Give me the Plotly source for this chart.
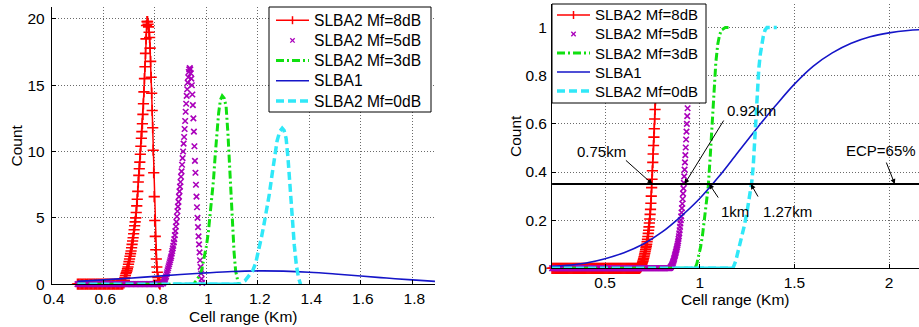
import numpy as np
import plotly.graph_objects as go

# ---------------- data: left panel (density of cell range) ----------------
# SLBA2 Mf=8dB
red_pdf_x = np.round(np.arange(0.680, 0.8205, 0.002), 3)
red_pdf_y = [0.1, 0.3, 0.5, 0.65, 0.8, 0.9, 1.0, 1.15, 1.3, 1.5,
             1.7, 1.9, 2.1, 2.3, 2.5, 2.75, 3.0, 3.25, 3.5, 3.8,
             4.1, 4.4, 4.7, 5.0, 5.4, 5.9, 6.4, 7.0, 7.7, 8.2,
             8.7, 9.2, 9.8, 10.4, 11.0, 11.5, 12.1, 12.8, 13.6, 14.5,
             15.5, 16.4, 17.4, 18.5, 19.5, 19.8, 19.8, 19.6, 19.4, 19.0,
             18.6, 17.8, 16.8, 15.6, 14.4, 13.1, 11.8, 10.1, 8.4, 6.6,
             4.8, 3.6, 2.6, 1.9, 1.3, 0.9, 0.5, 0.3, 0.15, 0.05,
             0.0]
# SLBA2 Mf=5dB
mag_pdf_x = np.round(np.arange(0.832, 0.9845, 0.002), 3)
mag_pdf_y = [0.05, 0.12, 0.2, 0.3, 0.4, 0.5, 0.6, 0.75, 0.9, 1.05,
             1.2, 1.35, 1.5, 1.65, 1.8, 1.95, 2.1, 2.3, 2.5, 2.7,
             2.9, 3.15, 3.4, 3.7, 4.0, 4.35, 4.7, 5.1, 5.5, 5.85,
             6.2, 6.6, 7.0, 7.35, 7.7, 8.1, 8.5, 9.0, 9.5, 10.0,
             10.6, 11.1, 11.7, 12.3, 13.0, 13.6, 14.2, 14.7, 15.2, 15.6,
             16.0, 16.2, 16.3, 16.2, 15.9, 15.5, 15.0, 14.3, 13.5, 12.5,
             11.5, 10.4, 9.3, 8.4, 7.5, 6.6, 5.8, 5.0, 4.3, 3.6,
             3.0, 2.4, 1.8, 1.3, 0.8, 0.4, 0.1]
# SLBA2 Mf=3dB
grn_pdf_x = [0.950, 0.963, 0.975, 0.982, 0.990, 1.000, 1.008, 1.015, 1.022, 1.028,
             1.035, 1.040, 1.048, 1.055, 1.062, 1.070, 1.077, 1.084, 1.090, 1.096,
             1.102, 1.108, 1.114, 1.120, 1.125]
grn_pdf_y = [0.0, 0.3, 0.7, 1.06, 1.8, 2.82, 3.9, 5.2, 6.6, 7.85,
             9.8, 11.3, 12.9, 13.9, 14.2, 14.0, 13.4, 11.4, 8.9, 6.4,
             4.2, 2.4, 1.0, 0.3, 0.0]
# SLBA1
blu_pdf_x = [0.50, 0.60, 0.70, 0.80, 0.90, 1.00, 1.10, 1.20, 1.30, 1.40,
             1.50, 1.60, 1.70, 1.80, 1.89]
blu_pdf_y = [0.21, 0.32, 0.45, 0.59, 0.73, 0.85, 0.95, 1.0, 0.98, 0.9,
             0.77, 0.62, 0.46, 0.32, 0.21]
# SLBA2 Mf=0dB
cyn_pdf_x = [1.130, 1.150, 1.165, 1.180, 1.192, 1.205, 1.215, 1.225, 1.235, 1.245,
             1.255, 1.265, 1.275, 1.285, 1.295, 1.302, 1.310, 1.317, 1.323, 1.329,
             1.335, 1.342, 1.350, 1.358, 1.366]
cyn_pdf_y = [0.0, 0.25, 0.6, 1.0, 1.6, 2.6, 3.6, 4.6, 5.6, 6.8,
             8.2, 9.6, 10.8, 11.5, 11.75, 11.6, 11.0, 9.6, 8.0, 6.3,
             4.5, 2.9, 1.4, 0.5, 0.0]
pdf_start = 0.50          # first sample of every density curve
cyn_solid_pdf = (0.87, 1.13)

# ---------------- data: right panel (cumulative distribution) ----------------
red_cdf_x = np.round(np.arange(0.684, 0.8205, 0.002), 3)
red_cdf_y = [0.002, 0.004, 0.006, 0.009, 0.012, 0.016, 0.020, 0.025, 0.030, 0.036,
             0.042, 0.048, 0.055, 0.062, 0.070, 0.077, 0.085, 0.092, 0.100, 0.110,
             0.120, 0.132, 0.145, 0.158, 0.172, 0.188, 0.205, 0.224, 0.245, 0.270,
             0.300, 0.335, 0.370, 0.405, 0.440, 0.475, 0.510, 0.545, 0.580, 0.620,
             0.660, 0.700, 0.740, 0.780, 0.820, 0.855, 0.890, 0.915, 0.940, 0.955,
             0.970, 0.978, 0.985, 0.990, 0.994, 0.996, 0.998, 0.999,
             1.0, 1.0, 1.0, 1.0, 1.0, 1.0, 1.0, 1.0, 1.0, 1.0, 1.0]
mag_cdf_x = np.round(np.arange(0.844, 0.9885, 0.002), 3)
mag_cdf_y = [0.002, 0.004, 0.006, 0.008, 0.011, 0.014, 0.018, 0.022, 0.027, 0.032,
             0.038, 0.044, 0.050, 0.056, 0.062, 0.068, 0.075, 0.081, 0.088, 0.095,
             0.103, 0.112, 0.122, 0.133, 0.145, 0.158, 0.172, 0.186, 0.200, 0.216,
             0.232, 0.250, 0.268, 0.288, 0.310, 0.332, 0.355, 0.382, 0.410, 0.440,
             0.470, 0.502, 0.535, 0.568, 0.600, 0.632, 0.665, 0.698, 0.730, 0.760,
             0.790, 0.818, 0.845, 0.868, 0.890, 0.910, 0.930, 0.943, 0.955, 0.966,
             0.975, 0.982, 0.987, 0.991, 0.994, 0.996, 0.998, 0.999, 1.0, 1.0,
             1.0, 1.0, 1.0]
grn_cdf_x = [0.975, 0.985, 0.995, 1.005, 1.015, 1.025, 1.035, 1.045, 1.055, 1.065,
             1.075, 1.085, 1.095, 1.105, 1.115, 1.125, 1.135, 1.152]
grn_cdf_y = [0.0, 0.02, 0.05, 0.09, 0.14, 0.20, 0.265, 0.34, 0.46, 0.60,
             0.74, 0.855, 0.93, 0.97, 0.99, 0.997, 1.0, 1.0]
blu_cdf_x = [0.22, 0.30, 0.40, 0.50, 0.60, 0.70, 0.80, 0.90, 1.00, 1.10,
             1.20, 1.30, 1.40, 1.50, 1.60, 1.70, 1.80, 1.90, 2.00, 2.10, 2.16]
blu_cdf_y = [0.007, 0.012, 0.022, 0.040, 0.065, 0.100, 0.150, 0.215, 0.290, 0.380,
             0.480, 0.580, 0.675, 0.765, 0.840, 0.895, 0.935, 0.962, 0.978, 0.988, 0.991]
cyn_cdf_x = [1.175, 1.190, 1.205, 1.220, 1.235, 1.250, 1.265, 1.275, 1.283, 1.290,
             1.297, 1.304, 1.312, 1.320, 1.328, 1.336, 1.345, 1.355, 1.407]
cyn_cdf_y = [0.0, 0.03, 0.075, 0.125, 0.175, 0.235, 0.305, 0.36, 0.43, 0.54,
             0.66, 0.76, 0.83, 0.89, 0.93, 0.965, 0.99, 1.0, 1.0]
cdf_start = 0.22
cyn_solid_cdf = (0.87, 1.175)

ecp = 0.65                      # edge coverage probability
ecp_level = 1 - ecp
range_marks = [(0.75, "0.75km"), (0.92, "0.92km"), (1.05, "1km"), (1.27, "1.27km")]

names = ["SLBA2 Mf=8dB", "SLBA2 Mf=5dB", "SLBA2 Mf=3dB", "SLBA1", "SLBA2 Mf=0dB"]
x_title, y_title = "Cell range (Km)", "Count"
RED, MAG, GRN, BLU, CYN = "#ff0000", "#aa00bb", "#10e010", "#1515c8", "#30e8f8"
W, H = 919, 327
FONT = "Arial, Liberation Sans, sans-serif"
FS = 15.5


def with_zero_run(x0, xs, ys, step=0.005):
    """Prepend the flat zero stretch that precedes each curve's rise."""
    xs = np.asarray(xs, float)
    ys = np.asarray(ys, float)
    assert len(xs) == len(ys), (len(xs), len(ys))
    run = np.arange(x0, xs[0] - step / 2, step)
    return np.concatenate([run, xs]), np.concatenate([np.zeros(len(run)), ys])


fig = go.Figure()


def add_panel(xa, ya, start, data, solid_seg):
    (rx, ry), (mx, my), (gx, gy), (bx, by), (cx, cy) = data
    x, y = with_zero_run(start, rx, ry)
    fig.add_trace(go.Scatter(x=x, y=y, name=names[0], mode="lines+markers",
                             line=dict(color=RED, width=1.5),
                             marker=dict(symbol="cross-thin", size=8, color=RED,
                                         line=dict(color=RED, width=1.6)),
                             cliponaxis=False, xaxis=xa, yaxis=ya))
    x, y = with_zero_run(start, mx, my)
    fig.add_trace(go.Scatter(x=x, y=y, name=names[1], mode="markers",
                             marker=dict(symbol="x-thin", size=5.5, color=MAG,
                                         line=dict(color=MAG, width=1.6)),
                             cliponaxis=False, xaxis=xa, yaxis=ya))
    x, y = with_zero_run(start, gx, gy, 0.02)
    fig.add_trace(go.Scatter(x=x, y=y, name=names[2], mode="lines",
                             line=dict(color=GRN, width=3, dash="8px,3px,2px,3px"),
                             xaxis=xa, yaxis=ya))
    fig.add_trace(go.Scatter(x=bx, y=by, name=names[3], mode="lines",
                             line=dict(color=BLU, width=1.6, shape="spline"),
                             xaxis=xa, yaxis=ya))
    x, y = with_zero_run(start, cx, cy, 0.02)
    fig.add_trace(go.Scatter(x=x, y=y, name=names[4], mode="lines",
                             line=dict(color=CYN, width=3.5, dash="8px,4px"),
                             xaxis=xa, yaxis=ya))
    fig.add_trace(go.Scatter(x=list(solid_seg), y=[0, 0], mode="lines", name=names[4],
                             line=dict(color=CYN, width=3.5), hoverinfo="skip",
                             xaxis=xa, yaxis=ya))


add_panel("x", "y", pdf_start,
          [(red_pdf_x, red_pdf_y), (mag_pdf_x, mag_pdf_y), (grn_pdf_x, grn_pdf_y),
           (blu_pdf_x, blu_pdf_y), (cyn_pdf_x, cyn_pdf_y)], cyn_solid_pdf)
add_panel("x2", "y2", cdf_start,
          [(red_cdf_x, red_cdf_y), (mag_cdf_x, mag_cdf_y), (grn_cdf_x, grn_cdf_y),
           (blu_cdf_x, blu_cdf_y), (cyn_cdf_x, cyn_cdf_y)], cyn_solid_cdf)

# ECP threshold line
fig.add_trace(go.Scatter(x=[cdf_start, 2.16], y=[ecp_level, ecp_level], mode="lines",
                         line=dict(color="black", width=2), name="ECP",
                         xaxis="x2", yaxis="y2"))

# ---------------- boxed legends (one per panel) ----------------
shapes, annotations = [], []


def px(x):
    return x / W


def py(y):
    return 1 - y / H


def legend_box(box, row0, gap, line_x, text_x, fs):
    x0, y0, x1, y1 = box
    shapes.append(dict(type="rect", xref="paper", yref="paper", layer="above",
                       x0=px(x0), x1=px(x1), y0=py(y0), y1=py(y1),
                       fillcolor="white", line=dict(color="black", width=1)))
    styles = [dict(color=RED, width=1.5), None,
              dict(color=GRN, width=3, dash="8px,3px,2px,3px"),
              dict(color=BLU, width=1.6),
              dict(color=CYN, width=3.5, dash="8px,4px")]
    cx = (line_x[0] + line_x[1]) / 2
    for i, name in enumerate(names):
        yc = row0 + i * gap
        if styles[i] is not None:
            shapes.append(dict(type="line", xref="paper", yref="paper", layer="above",
                               x0=px(line_x[0]), x1=px(line_x[1]), y0=py(yc), y1=py(yc),
                               line=styles[i]))
        if i == 0:      # '+' marker on the red sample
            shapes.append(dict(type="line", xref="paper", yref="paper", layer="above",
                               x0=px(cx), x1=px(cx), y0=py(yc - 4), y1=py(yc + 4),
                               line=dict(color=RED, width=1.5)))
        if i == 1:      # 'x' marker for the magenta sample
            for s in (1, -1):
                shapes.append(dict(type="line", xref="paper", yref="paper", layer="above",
                                   x0=px(cx - 2.2), x1=px(cx + 2.2),
                                   y0=py(yc - 2.2 * s), y1=py(yc + 2.2 * s),
                                   line=dict(color=MAG, width=1.3)))
        annotations.append(dict(x=px(text_x), y=py(yc), xref="paper", yref="paper",
                                text=name, showarrow=False, xanchor="left",
                                yanchor="middle",
                                font=dict(family=FONT, size=fs, color="black")))


legend_box((269, 7, 431, 112), 20.2, 20.2, (276, 309), 312, 15.6)
legend_box((552, 4, 706, 103), 15.0, 19.0, (557, 590), 593, 15.0)

# axis titles
title_font = dict(family=FONT, size=15.5, color="black")
for (xc, yc) in [(243.5, 316.5), (735, 299)]:
    annotations.append(dict(x=px(xc), y=py(yc), xref="paper", yref="paper",
                            text=x_title, showarrow=False, xanchor="center",
                            yanchor="middle", font=title_font))
for (xc, yc) in [(16, 145.5), (515, 136)]:
    annotations.append(dict(x=px(xc), y=py(yc), xref="paper", yref="paper",
                            text=y_title, showarrow=False, textangle=-90,
                            xanchor="center", yanchor="middle", font=title_font))

# arrows pointing at the crossings with the ECP line, and their labels
arrow_tails = [(-28, -25), (40, -65), (10, 15), (8, 14)]
label_pos = [(0.479, 0.484), (1.271, 0.657), (1.187, 0.234), (1.465, 0.234)]
for (xv, txt), (ax, ay), (lx, ly) in zip(range_marks, arrow_tails, label_pos):
    annotations.append(dict(x=xv, y=ecp_level, xref="x2", yref="y2", text="",
                            showarrow=True, ax=ax, ay=ay, arrowhead=2, arrowsize=1,
                            arrowwidth=1, arrowcolor="black"))
    annotations.append(dict(x=lx, y=ly, xref="x2", yref="y2", text=txt, showarrow=False,
                            font=dict(family=FONT, size=15, color="black")))
annotations.append(dict(x=2.03, y=ecp_level, xref="x2", yref="y2", text="",
                        showarrow=True, ax=-9, ay=-23, arrowhead=2, arrowsize=1,
                        arrowwidth=1, arrowcolor="black"))
annotations.append(dict(x=1.957, y=0.491, xref="x2", yref="y2",
                        text=f"ECP={int(round(ecp * 100))}%", showarrow=False,
                        font=dict(family=FONT, size=15, color="black")))

tickfont = dict(family=FONT, size=FS, color="black")
axis_common = dict(showline=True, linecolor="black", linewidth=1, mirror=False,
                   ticks="inside", ticklen=4, tickcolor="black", tickfont=tickfont,
                   showgrid=True, gridcolor="#6a6a6a", griddash="1px,2px", gridwidth=1,
                   zeroline=False, automargin=False)

fig.update_layout(
    width=W, height=H,
    margin=dict(l=0, r=0, t=0, b=0, autoexpand=False),
    paper_bgcolor="white", plot_bgcolor="white", showlegend=False,
    font=dict(family=FONT, size=FS, color="black"),
    xaxis=dict(domain=[0.0563, 0.4733], range=[0.4, 1.888], tick0=0.4, dtick=0.2,
               ticklabelstandoff=0, ticklabelshift=2, anchor="y", **axis_common),
    yaxis=dict(domain=[0.1310, 0.9786], range=[0, 20.9], tick0=0, dtick=5,
               ticklabelstandoff=3, anchor="x", **axis_common),
    xaxis2=dict(domain=[0.6007, 1.0], range=[0.22, 2.158], tick0=0.5, dtick=0.5,
                ticklabelstandoff=0, anchor="y2", **axis_common),
    yaxis2=dict(domain=[0.1795, 0.9878], range=[0, 1.098], tick0=0, dtick=0.2,
                ticklabelstandoff=1, anchor="x2", **axis_common),
    shapes=shapes,
    annotations=annotations,
)

fig.write_html("out.html")
